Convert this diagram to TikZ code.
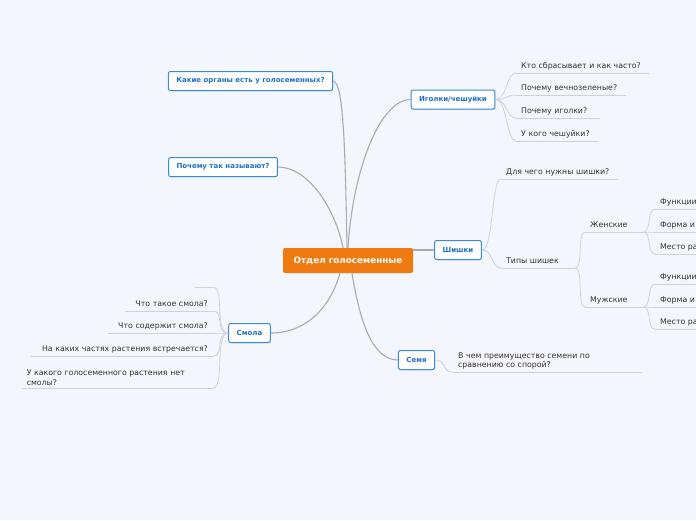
\documentclass[tikz,border=0pt]{standalone}
\usepackage{fontspec}
\setmainfont{DejaVu Sans}
\usepackage{xcolor}
\usetikzlibrary{positioning,shadows}

\definecolor{bg}{HTML}{F3F6FD}
\definecolor{topicblue}{HTML}{1F6FCB}
\definecolor{boxline}{HTML}{3C8AE0}
\definecolor{rootorange}{HTML}{EE7A10}
\definecolor{branchgray}{HTML}{ABABAB}
\definecolor{twiggray}{HTML}{CDD3DD}
\definecolor{leaftext}{HTML}{333333}

\begin{document}
\begin{tikzpicture}[x=1pt,y=-1pt,
  root/.style={fill=rootorange, rounded corners=2pt, text=white, font=\bfseries\fontsize{8.8}{10}\selectfont, minimum width=130pt, minimum height=25pt},
  topic/.style={draw=boxline, line width=1pt, fill=white, rounded corners=2pt, text=topicblue, font=\bfseries\fontsize{7}{8}\selectfont, minimum height=19pt, inner xsep=8pt, drop shadow={shadow xshift=0.6pt, shadow yshift=-0.8pt, opacity=0.25}},
  leaf/.style={text=leaftext, font=\fontsize{7.8}{9.3}\selectfont, inner xsep=5pt, inner ysep=2.6pt},
  uline/.style={append after command={(\tikzlastnode.south west) edge[twig] (\tikzlastnode.south east)}},
  rleaf/.style={leaf, anchor=south west, align=left, text height=6pt, text depth=1.7pt, uline},
  lleaf/.style={leaf, anchor=south east, align=right, text height=6pt, text depth=1.7pt, uline},
  branch/.style={draw=branchgray, line width=1.1pt},
  twig/.style={draw=twiggray, line width=0.8pt}
]
\fill[bg] (0,0) rectangle (696,520);
\useasboundingbox (0,0) rectangle (696,520);
\clip (0,0) rectangle (696,520);

\node[root] (root) at (348,260.5) {Отдел голосеменные};
\node[topic] (organs) at (250.5,81) {Какие органы есть у голосеменных?};
\node[topic] (naming) at (223,167) {Почему так называют?};
\node[topic] (igolki) at (453,99.5) {Иголки/чешуйки};
\node[topic] (shishki) at (458,250) {Шишки};
\node[topic] (smola) at (249.5,333) {Смола};
\node[topic] (semya) at (416.5,360) {Семя};

\draw[branch] ([xshift=-1pt]root.north) .. controls +(-2,-110) and +(10,2) .. (organs.east);
\draw[branch] ([xshift=-5pt]root.north) .. controls +(-8,-40) and +(30,0) .. (naming.east);
\draw[branch] (root.north) .. controls +(5,-80) and +(-30,0) .. (igolki.west);
\draw[branch] (shishki.west -| root.east) -- (shishki.west);
\draw[branch] ([xshift=-8pt]root.south) .. controls +(-10,35) and +(35,0) .. (smola.east);
\draw[branch] ([xshift=4pt]root.south) .. controls +(8,50) and +(-25,0) .. (semya.west);

\node[rleaf, text width=123pt] (k1) at (516,73) {Кто сбрасывает и как часто?};
\node[rleaf, text width=100pt] (k2) at (516,95) {Почему вечнозеленые?};
\node[rleaf, text width=74pt] (k3) at (516,118) {Почему иголки?};
\node[rleaf, text width=72pt] (k4) at (516,141) {У кого чешуйки?};
\foreach \n in {k1,k2,k3,k4}
  \draw[twig] (igolki.east) .. controls +(12,0) and +(-10,0) .. (\n.south west);

\node[rleaf, text width=107pt] (sh1) at (501,179) {Для чего нужны шишки?};
\node[rleaf, text width=64pt] (sh2) at (501,268) {Типы шишек};
\foreach \n in {sh1,sh2}
  \draw[twig] (shishki.east) .. controls +(12,0) and +(-10,0) .. (\n.south west);

\node[rleaf, text width=48pt] (fem) at (585,232) {Женские};
\node[rleaf, text width=48pt] (male) at (585,307) {Мужские};
\foreach \n in {fem,male}
  \draw[twig] (sh2.south east) .. controls +(8,0) and +(-8,0) .. (\n.south west);

\node[rleaf, text width=120pt] (f1) at (655,209) {Функции};
\node[rleaf, text width=120pt] (f2) at (655,232) {Форма и};
\node[rleaf, text width=120pt] (f3) at (655,254) {Место ра};
\node[rleaf, text width=120pt] (m1) at (655,284) {Функции};
\node[rleaf, text width=120pt] (m2) at (655,307) {Форма и};
\node[rleaf, text width=120pt] (m3) at (655,329) {Место ра};
\foreach \n in {f1,f2,f3}
  \draw[twig] (fem.south east) .. controls +(8,0) and +(-8,0) .. (\n.south west);
\foreach \n in {m1,m2,m3}
  \draw[twig] (male.south east) .. controls +(8,0) and +(-8,0) .. (\n.south west);

\node[lleaf, text width=8pt] (s0) at (213,287) {};
\node[lleaf, text width=78pt] (s1) at (213,311) {Что такое смола?};
\node[lleaf, text width=95pt] (s2) at (213,333) {Что содержит смола?};
\node[lleaf, text width=172pt] (s3) at (213,356) {На каких частях растения встречается?};
\node[leaf, anchor=south east, align=left, text width=181pt, uline] (s4) at (213,388) {У какого голосеменного растения нет\\смолы?};
\foreach \n in {s0,s1,s2,s3,s4}
  \draw[twig] (smola.west) .. controls +(-14,0) and +(12,0) .. (\n.south east);

\node[leaf, anchor=south west, align=left, text width=179pt, uline] (se1) at (453,372) {В чем преимущество семени по\\сравнению со спорой?};
\draw[twig] (semya.east) .. controls +(12,0) and +(-12,0) .. (se1.south west);
\end{tikzpicture}
\end{document}
